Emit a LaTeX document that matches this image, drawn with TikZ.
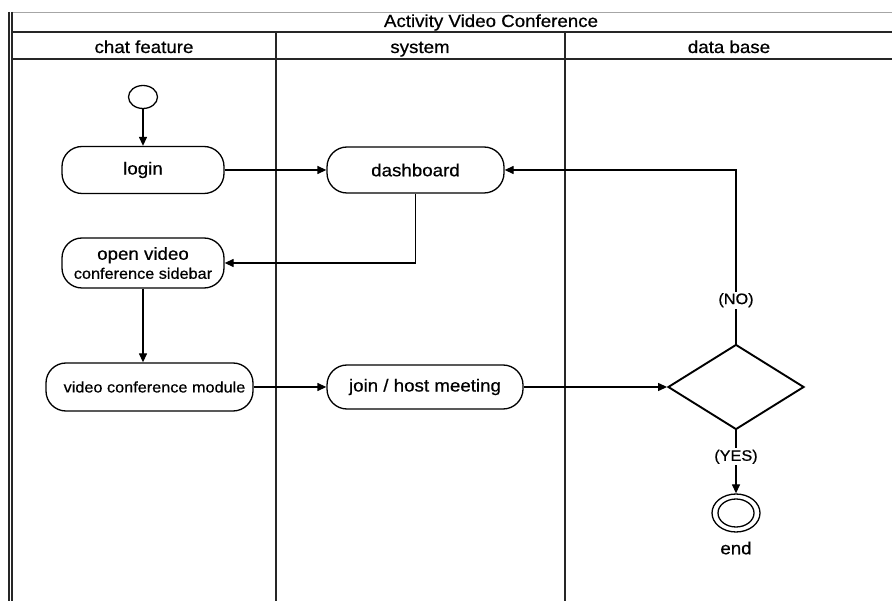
\documentclass[tikz,border=0pt]{standalone}
\usepackage{fontspec}
\setmainfont{Liberation Sans}[FakeStretch=1.07, FakeBold=0.6]
\usetikzlibrary{shapes.geometric,arrows.meta}

\begin{document}
\begin{tikzpicture}[x=1pt,y=-1pt,
  lane/.style={line width=1.3pt,draw=black!85},
  act/.style={draw, line width=1.3pt, rounded corners=20pt, fill=white,
    inner sep=0pt, font=\fontsize{17.5}{20}\selectfont, align=center},
  small/.style={font=\fontsize{15.2}{18}\selectfont},
  flow/.style={line width=1.3pt, -{Triangle[length=9pt,width=8pt]}},
  lbl/.style={fill=white, inner sep=1.5pt, font=\fontsize{15.2}{18}\selectfont},
  hdr/.style={font=\fontsize{17.5}{20}\selectfont, inner sep=0pt, anchor=base}
]
\useasboundingbox (0,0) rectangle (892,601);
\fill[white] (0,0) rectangle (892,601);

% swimlane frame
\draw[line width=0.8pt, draw=black!35] (12,12) -- (892,12);
\draw[lane] (9,12) -- (9,601);
\draw[lane] (12,12) -- (12,601);
\draw[lane] (12,32) -- (892,32);
\draw[lane] (12,59) -- (892,59);
\draw[lane] (276,32) -- (276,601);
\draw[lane] (565,32) -- (565,601);

% headers
\node[hdr] (title) at (491,27) {Activity Video Conference};
\node[hdr] (hchat) at (144,53) {chat feature};
\node[hdr] (hsys)  at (420,53) {system};
\node[hdr] (hdb)   at (729,53) {data base};

% activities
\node[draw, line width=1.3pt, ellipse, minimum width=29pt, minimum height=23pt, inner sep=0pt] (start) at (143,97) {};
\node[act, minimum width=162pt, minimum height=47pt] (login) at (143,170) {login};
\node[act, minimum width=177pt, minimum height=46pt] (dash) at (415.5,170) {dashboard};
\node[act, minimum width=162pt, minimum height=50pt] (open) at (143,263)
  {open video\\[-1pt]{\fontsize{15.2}{18}\selectfont conference sidebar}};
\node[act, small, minimum width=207pt, minimum height=48pt] (vcm) at (149.5,387)
  {\hspace*{10pt}video conference module};
\node[act, minimum width=196pt, minimum height=44pt] (join) at (425,387) {join / host meeting};
\node[draw, line width=1.9pt, diamond, minimum width=136pt, minimum height=85pt, inner sep=0pt, fill=white] (dec) at (736,387) {};
\node[draw, line width=1.3pt, ellipse, minimum width=48pt, minimum height=38pt, inner sep=0pt] (end) at (736,513) {};
\draw[line width=1.3pt] (end.center) ellipse (18 and 14);
\node[font=\fontsize{17.5}{20}\selectfont] (endlbl) at (736,548) {end};

% flows
\draw[flow] (start) -- (login);
\draw[flow] (login.east) -- (dash.west);
\draw[flow] (dash.south) |- (open.east);
\draw[flow] (open.south) -- (open.south |- vcm.north);
\draw[flow] (vcm.east) -- (join.west);
\draw[flow] (join.east) -- (dec.west);
\draw[flow] (dec.north) |- node[lbl, pos=0.125] {(NO)} (dash.east);
\draw[flow] (dec.south) -- node[lbl, pos=0.42] {(YES)} (end.north);
\end{tikzpicture}
\end{document}
